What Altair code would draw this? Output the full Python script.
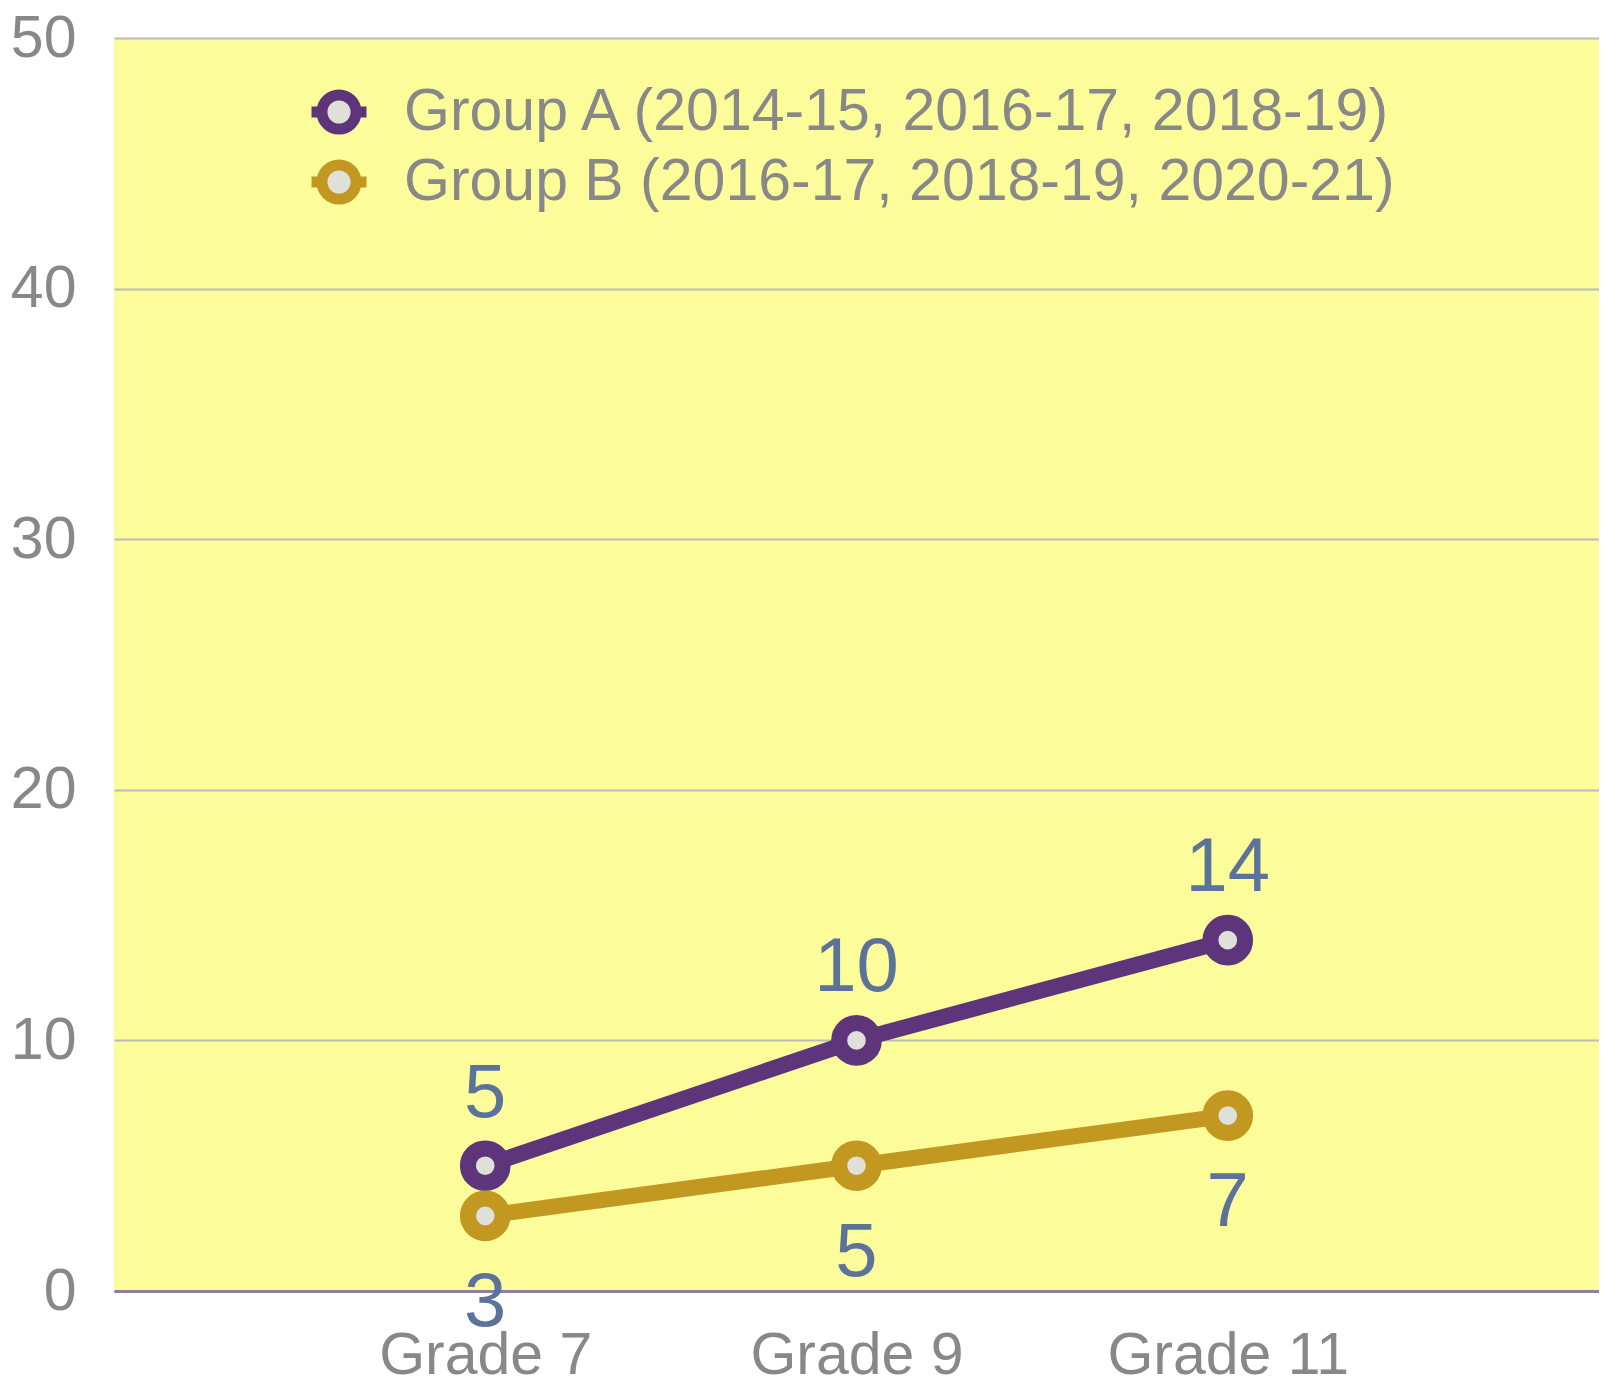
import altair as alt
import pandas as pd

grades = ["Grade 7", "Grade 9", "Grade 11"]
group_a_name = "Group A (2014-15, 2016-17, 2018-19)"
group_b_name = "Group B (2016-17, 2018-19, 2020-21)"
group_a = [5, 10, 14]
group_b = [3, 5, 7]

rows = []
for g, v in zip(grades, group_a):
    rows.append({"grade": g, "value": v, "group": group_a_name})
for g, v in zip(grades, group_b):
    rows.append({"grade": g, "value": v, "group": group_b_name})
df = pd.DataFrame(rows)

FONT = "Liberation Sans"
PURPLE = "#5E347A"
GOLD = "#C29820"
INNER = "#E0E0DA"

legend_path = ("M -1 0 L -0.62 0 M 0.62 0 L 1 0 "
               "M 0.62 0 A 0.62 0.62 0 1 1 -0.62 0 A 0.62 0.62 0 1 1 0.62 0 Z")

stroke_scale = alt.Scale(domain=[group_a_name, group_b_name], range=[PURPLE, GOLD])
legend = alt.Legend(
    title=None, orient="none", legendX=192, legendY=44, padding=0,
    symbolType=legend_path, symbolSize=3025, symbolStrokeWidth=11,
    symbolFillColor=INNER, symbolOpacity=1,
    labelFont=FONT, labelFontSize=59, labelColor="#888888",
    labelOffset=32, labelLimit=2000, rowPadding=10, clipHeight=60,
)

x_enc = alt.X("grade:N", sort=grades, scale=alt.Scale(type="point", padding=1),
              axis=alt.Axis(title=None, labelAngle=0, ticks=False, grid=False,
                            domainColor="#8E7DA5", domainWidth=3,
                            labelFont=FONT, labelFontSize=59, labelColor="#888888",
                            labelPadding=82, labelBaseline="alphabetic",
                            labelLimit=1000, labelOverlap=False))
y_enc = alt.Y("value:Q", scale=alt.Scale(domain=[0, 50], nice=False),
              axis=alt.Axis(title=None, values=[0, 10, 20, 30, 40, 50], ticks=False,
                            domain=False, grid=True, gridColor="#BBBBBB", gridWidth=2,
                            labelFont=FONT, labelFontSize=59, labelColor="#888888",
                            labelPadding=38, labelFlush=False, labelOverlap=False))

base = alt.Chart(df).encode(x=x_enc, y=y_enc)

lines = base.mark_line(strokeWidth=16).encode(
    stroke=alt.Stroke("group:N", scale=stroke_scale, legend=legend)
)
points = base.mark_point(shape="circle", size=1200, strokeWidth=16, fill=INNER,
                         fillOpacity=1, opacity=1, filled=False).encode(
    stroke=alt.Stroke("group:N", scale=stroke_scale, legend=legend)
)
labels_a = base.transform_filter(alt.datum.group == group_a_name).mark_text(
    font=FONT, fontSize=76, color="#5B7399", baseline="alphabetic", dy=-49
).encode(text="value:Q")
labels_b = base.transform_filter(alt.datum.group == group_b_name).mark_text(
    font=FONT, fontSize=76, color="#5B7399", baseline="alphabetic", dy=110
).encode(text="value:Q")

chart = alt.layer(lines, points, labels_a, labels_b).properties(
    width=1485, height=1253,
    autosize=alt.AutoSizeParams(type="none"),
    padding={"left": 106, "top": 30, "right": 0, "bottom": 94},
).configure_view(fill="#FCFC9B", stroke=None)

chart.save("out.html", embed_options={"renderer": "svg", "actions": False})
